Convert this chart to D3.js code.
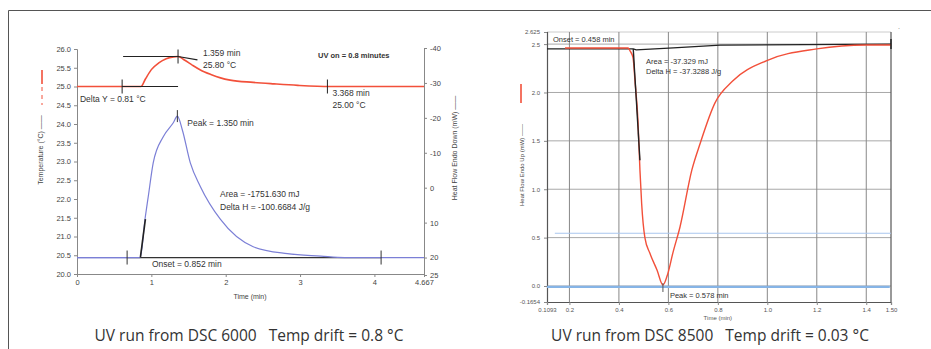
<!DOCTYPE html>
<html><head><meta charset="utf-8">
<script src="https://cdn.jsdelivr.net/npm/d3@7"></script>
<style>
body{margin:0;background:#fff;}
svg{display:block;}
text{font-family:"Liberation Sans",Arial,sans-serif;}
text.cap{font-family:"Open Sans","Noto Sans",sans-serif;}
</style></head>
<body>
<svg id="c" width="931" height="349"></svg>
<script>
// ---------- DATA: left chart (DSC 6000) ----------
const leftTimeTicks = [0, 1, 2, 3, 4, 4.667];
const leftTempTicks = [20, 20.5, 21, 21.5, 22, 22.5, 23, 23.5, 24, 24.5, 25, 25.5, 26];
const leftFlowTicks = [-40, -30, -20, -10, 0, 10, 20, 25];
// temperature (°C) vs time (min)
const tempTime = [0, 0.86, 0.92, 1.0, 1.1, 1.2, 1.3, 1.359, 1.45, 1.55, 1.66, 1.8, 1.93, 2.06, 2.37, 2.65, 2.97, 3.4, 4.667];
const tempVal  = [25.0, 25.0, 25.2, 25.45, 25.63, 25.74, 25.79, 25.80, 25.7, 25.57, 25.44, 25.32, 25.23, 25.17, 25.11, 25.07, 25.03, 25.0, 25.0];
// heat flow (mW) vs time (min)
const flowTime = [0, 0.85, 0.917, 0.958, 1.025, 1.16, 1.295, 1.35, 1.416, 1.524, 1.66, 1.93, 2.37, 2.83, 3.28, 3.6, 4.667];
const flowVal  = [20, 20, 8.6, 2.6, -7.1, -14.6, -18.6, -20.5, -16.6, -7.1, -0.3, 9.1, 16.9, 18.9, 19.6, 20, 20];
// annotation values
const leftOnsetTangent = [[0.852, 20], [0.92, 9]];
const leftBaseline = [0.674, 4.09, 20];
const leftDeltaY = [[0.607, 1.359, 25.0], [0.62, 1.359, 25.80]];
const leftPeakTangent = [[1.359, 25.80], [1.62, 25.71]];
const leftTempMarker = [3.368, 25.0];
const leftPeak = [1.35, -20.5];

// ---------- DATA: right chart (DSC 8500) ----------
const rightTimeTicks = [0.1093, 0.2, 0.4, 0.6, 0.8, 1.0, 1.2, 1.4, 1.5];
const rightTimeLabels = ["0.1093", "0.2", "0.4", "0.6", "0.8", "1.0", "1.2", "1.4", "1.50"];
const rightFlowTicks = [-0.1654, 0, 0.5, 1.0, 1.5, 2.0, 2.5, 2.625];
const rightFlowLabels = ["-0.1654", "0.0", "0.5", "1.0", "1.5", "2.0", "2.5", "2.625"];
const rightGridX = [0.2, 0.4, 0.6, 0.8, 1.0, 1.2, 1.4];
const rightGridY = [0, 0.5, 1.0, 1.5, 2.0, 2.5];
const rTime = [0.182, 0.437, 0.445, 0.457, 0.465, 0.477, 0.485, 0.492, 0.505, 0.525, 0.554, 0.578, 0.598, 0.618, 0.647, 0.695, 0.728, 0.788, 0.861, 0.998, 1.2, 1.4, 1.5];
const rVal  = [2.46, 2.46, 2.43, 2.36, 2.12, 1.71, 1.20, 0.85, 0.50, 0.34, 0.165, 0.01, 0.13, 0.34, 0.61, 1.20, 1.47, 1.89, 2.12, 2.33, 2.45, 2.49, 2.49];
const rBaseline = [[0.1093, 2.45], [0.458, 2.45], [0.47, 2.44], [0.62, 2.46], [0.81, 2.49], [1.5, 2.5]];
const rOnsetTangent = [[0.458, 2.45], [0.485, 1.3]];
const rBlueThin = [0.141, 1.5, 0.545];
const rBlueThick = [0.1093, 1.495, -0.01];
const rPeak = [0.578, 0.0];

const svg = d3.select("#c");
// outer frame
svg.append("path").attr("d", "M8.5,349 V10.5 H931").attr("fill", "none").attr("stroke", "#555").attr("stroke-width", 1);

// ================= LEFT CHART =================
const xL = d3.scaleLinear().domain([0, 4.667]).range([77, 424]);
const yT = d3.scaleLinear().domain([20, 26]).range([274, 49]);
const yH = d3.scaleLinear().domain([-40, 25]).range([48, 275]);
const gL = svg.append("g");

function styleAxis(g, size, color) {
  g.selectAll("path.domain").attr("stroke", "#888");
  g.selectAll(".tick line").attr("stroke", "#888");
  g.selectAll("text").attr("font-size", size).attr("fill", color || "#444");
}
gL.append("g").attr("transform", "translate(77,0)")
  .call(d3.axisLeft(yT).tickValues(leftTempTicks).tickFormat(d3.format(".1f")).tickSize(3).tickPadding(3))
  .call(g => styleAxis(g, 7.5));
gL.append("g").attr("transform", "translate(0,274)")
  .call(d3.axisBottom(xL).tickValues(leftTimeTicks).tickFormat(d => d === 4.667 ? "4.667" : d3.format("d")(d)).tickSize(3).tickPadding(3))
  .call(g => styleAxis(g, 7.5));
gL.append("g").attr("transform", "translate(424,0)")
  .call(d3.axisRight(yH).tickValues(leftFlowTicks).tickFormat(d => d < 0 ? "-" + Math.abs(d) : String(d)).tickSize(3).tickPadding(3))
  .call(g => styleAxis(g, 7.5));

gL.append("text").attr("x", 250).attr("y", 299).attr("text-anchor", "middle").attr("font-size", 7).attr("fill", "#444").text("Time (min)");
// y labels
gL.append("text").attr("transform", "translate(43,150) rotate(-90)").attr("text-anchor", "middle").attr("font-size", 7).attr("fill", "#444").text("Temperature (°C) ——");
gL.append("line").attr("x1", 42).attr("x2", 42).attr("y1", 70).attr("y2", 84).attr("stroke", "#f2503a").attr("stroke-width", 1.6);
gL.append("line").attr("x1", 42).attr("x2", 42).attr("y1", 87).attr("y2", 105).attr("stroke", "#f2503a").attr("stroke-width", 1).attr("stroke-dasharray", "4,4");
gL.append("text").attr("transform", "translate(457,148) rotate(-90)").attr("text-anchor", "middle").attr("font-size", 7).attr("fill", "#444").text("Heat Flow Endo Down (mW) ——");

// curves
const lineH = d3.line().x((d, i) => xL(flowTime[i])).y(d => yH(d)).curve(d3.curveMonotoneX);
gL.append("path").attr("d", d3.line().x((d, i) => xL(tempTime[i])).y(d => yT(d)).curve(d3.curveMonotoneX)(tempVal))
  .attr("fill", "none").attr("stroke", "#f2503a").attr("stroke-width", 1.6);
const lp = d3.line().x(d => xL(d[0])).y(d => yH(d[1]));
gL.append("path").attr("d", lp([[leftBaseline[0], leftBaseline[2]], [leftBaseline[1], leftBaseline[2]]])).attr("stroke", "#333").attr("stroke-width", 1.3);
gL.append("path").attr("d", lineH(flowVal)).attr("fill", "none").attr("stroke", "#7b7fd6").attr("stroke-width", 1.2);
gL.append("path").attr("d", lp([[flowTime[0], 20], [leftBaseline[0], 20]])).attr("stroke", "#7b7fd6").attr("stroke-width", 1.2);
gL.append("path").attr("d", lp(leftOnsetTangent)).attr("stroke", "#222").attr("stroke-width", 1.6);
[leftBaseline[0], leftBaseline[1]].forEach(t => {
  gL.append("line").attr("x1", xL(t)).attr("x2", xL(t)).attr("y1", yH(20) - 7).attr("y2", yH(20) + 7).attr("stroke", "#333").attr("stroke-width", 1);
});
gL.append("line").attr("x1", xL(leftPeak[0])).attr("x2", xL(leftPeak[0])).attr("y1", yH(leftPeak[1]) - 6).attr("y2", yH(leftPeak[1]) + 6).attr("stroke", "#333");
const lt = d3.line().x(d => xL(d[0])).y(d => yT(d[1]));
leftDeltaY.forEach(r => {
  gL.append("path").attr("d", lt([[r[0], r[2]], [r[1], r[2]]])).attr("stroke", "#222").attr("stroke-width", 1.2);
});
gL.append("path").attr("d", lt(leftPeakTangent)).attr("stroke", "#222").attr("stroke-width", 1.2);
gL.append("line").attr("x1", xL(leftDeltaY[0][0])).attr("x2", xL(leftDeltaY[0][0])).attr("y1", yT(25) - 7).attr("y2", yT(25) + 7).attr("stroke", "#222");
gL.append("line").attr("x1", xL(1.359)).attr("x2", xL(1.359)).attr("y1", yT(25.8) - 7).attr("y2", yT(25.8) + 7).attr("stroke", "#222");
gL.append("line").attr("x1", xL(leftTempMarker[0])).attr("x2", xL(leftTempMarker[0])).attr("y1", yT(25) - 7).attr("y2", yT(25) + 7).attr("stroke", "#222");

const ann = (x, y, t, size, w) => gL.append("text").attr("x", x).attr("y", y).attr("font-size", size || 8.5).attr("fill", "#333").attr("font-weight", w || "normal").text(t);
ann(xL(1.359) + 25, yT(25.8) - 1, "1.359 min");
ann(xL(1.359) + 25, yT(25.8) + 11, "25.80 °C");
ann(xL(0.04), yT(25) + 15, "Delta Y = 0.81 °C");
ann(318, 58, "UV on = 0.8 minutes", 7.5, "bold");
ann(xL(leftTempMarker[0]) + 5, yT(25) + 9, "3.368 min");
ann(xL(leftTempMarker[0]) + 5, yT(25) + 21, "25.00 °C");
ann(xL(leftPeak[0]) + 10, yH(leftPeak[1]) + 10, "Peak = 1.350 min");
ann(220, 197, "Area = -1751.630 mJ");
ann(220, 210, "Delta H = -100.6684 J/g");
ann(152, 267, "Onset = 0.852 min");

svg.append("text").attr("class", "cap").attr("x", 249).attr("y", 341).attr("text-anchor", "middle").attr("font-size", 15.5).attr("fill", "#333")
  .attr("xml:space", "preserve").text("UV run from DSC 6000   Temp drift = 0.8 °C");

// ================= RIGHT CHART =================
const xR = d3.scaleLinear().domain([0.1093, 1.5]).range([547, 891]);
const yR = d3.scaleLinear().domain([-0.1654, 2.625]).range([302, 32]);
const gR = svg.append("g");
rightGridY.forEach(v => gR.append("line").attr("x1", 547).attr("x2", 891).attr("y1", yR(v)).attr("y2", yR(v)).attr("stroke", "#a8a8a8").attr("stroke-width", 1));
gR.append("line").attr("x1", 547).attr("x2", 891).attr("y1", 32).attr("y2", 32).attr("stroke", "#ccc");
rightGridX.forEach(v => gR.append("line").attr("x1", xR(v)).attr("x2", xR(v)).attr("y1", 32).attr("y2", 302).attr("stroke", "#888").attr("stroke-width", 1));
gR.append("line").attr("x1", 891).attr("x2", 891).attr("y1", 32).attr("y2", 302).attr("stroke", "#555").attr("stroke-width", 1.2);

gR.append("g").attr("transform", "translate(547,0)")
  .call(d3.axisLeft(yR).tickValues(rightFlowTicks).tickFormat((d, i) => rightFlowLabels[i]).tickSize(3).tickPadding(4))
  .call(g => { styleAxis(g, 6, "#555"); g.selectAll("path.domain").attr("stroke", "#555").attr("stroke-width", 1.2); });
gR.append("g").attr("transform", "translate(0,302)")
  .call(d3.axisBottom(xR).tickValues(rightTimeTicks).tickFormat((d, i) => rightTimeLabels[i]).tickSize(3).tickPadding(3))
  .call(g => { styleAxis(g, 6, "#555"); g.selectAll("path.domain").attr("stroke", "#555").attr("stroke-width", 1.2); });
gR.append("text").attr("x", xR(0.8)).attr("y", 320).attr("text-anchor", "middle").attr("font-size", 6).attr("fill", "#555").text("Time (min)");
gR.append("text").attr("transform", "translate(524,165) rotate(-90)").attr("text-anchor", "middle").attr("font-size", 6).attr("fill", "#444").text("Heat Flow Endo Up (mW) ——");
gR.append("line").attr("x1", 521).attr("x2", 521).attr("y1", 84).attr("y2", 103).attr("stroke", "#f2503a").attr("stroke-width", 1.6);
svg.append("text").attr("x", 898).attr("y", 29).attr("font-size", 7).attr("fill", "#777").text(".");

gR.append("line").attr("x1", xR(rBlueThin[0])).attr("x2", xR(rBlueThin[1])).attr("y1", yR(rBlueThin[2])).attr("y2", yR(rBlueThin[2])).attr("stroke", "#a9c6ee").attr("stroke-width", 1);
gR.append("line").attr("x1", xR(rBlueThick[0])).attr("x2", xR(rBlueThick[1])).attr("y1", yR(rBlueThick[2])).attr("y2", yR(rBlueThick[2])).attr("stroke", "#86b4e6").attr("stroke-width", 2.2);
const rl = d3.line().x(d => xR(d[0])).y(d => yR(d[1]));
gR.append("path").attr("d", rl(rBaseline)).attr("fill", "none").attr("stroke", "#222").attr("stroke-width", 1.3);
gR.append("path").attr("d", d3.line().x((d, i) => xR(rTime[i])).y(d => yR(d)).curve(d3.curveMonotoneX)(rVal))
  .attr("fill", "none").attr("stroke", "#f2503a").attr("stroke-width", 1.4);
gR.append("path").attr("d", rl(rOnsetTangent)).attr("stroke", "#222").attr("stroke-width", 1.4);
gR.append("line").attr("x1", xR(1.5)).attr("x2", xR(1.5)).attr("y1", yR(2.5) - 5).attr("y2", yR(2.5) + 5).attr("stroke", "#222").attr("stroke-width", 1.5);
gR.append("line").attr("x1", xR(rPeak[0])).attr("x2", xR(rPeak[0])).attr("y1", yR(rPeak[1]) - 3).attr("y2", yR(rPeak[1]) + 6).attr("stroke", "#555");
const annR = (x, y, t) => gR.append("text").attr("x", x).attr("y", y).attr("font-size", 7.5).attr("fill", "#333").text(t);
annR(553, 42, "Onset = 0.458 min");
annR(646, 64, "Area = -37.329 mJ");
annR(646, 74, "Delta H = -37.3288 J/g");
annR(xR(rPeak[0]) + 7, yR(rPeak[1]) + 12, "Peak = 0.578 min");

svg.append("text").attr("class", "cap").attr("x", 710).attr("y", 341).attr("text-anchor", "middle").attr("font-size", 15.5).attr("fill", "#333")
  .attr("xml:space", "preserve").text("UV run from DSC 8500   Temp drift = 0.03 °C");
</script>
</body></html>
